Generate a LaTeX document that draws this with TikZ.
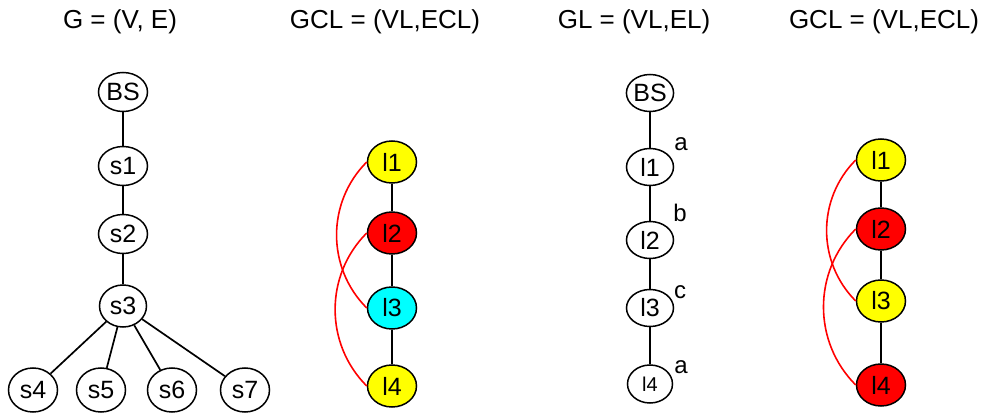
\documentclass[tikz,border=0pt]{standalone}
\usepackage{fontspec}
\setmainfont{Liberation Sans}
\usetikzlibrary{shapes.geometric}
\definecolor{nyellow}{RGB}{255,255,0}
\definecolor{nred}{RGB}{255,0,0}
\definecolor{ncyan}{RGB}{0,255,255}
\tikzset{
  vnode/.style={ellipse, draw=black, line width=1.5pt, fill=white, inner sep=0pt,
    minimum width=49pt, minimum height=39pt, font=\fontsize{25}{28}\selectfont},
  lnode/.style={vnode, minimum height=42pt},
  gnode/.style={vnode, minimum width=47pt, minimum height=37pt},
  title/.style={font=\fontsize{26}{30}\selectfont, inner sep=0pt},
  lab/.style={font=\fontsize{24}{28}\selectfont, inner sep=0pt},
  edge/.style={draw=black, line width=1.7pt},
  conf/.style={draw=nred, line width=1.6pt}
}
\begin{document}
\begin{tikzpicture}[x=1pt,y=-1pt]
\useasboundingbox (0,0) rectangle (989,414);
% titles
\node[title] (t1) at (120,22) {G = (V, E)};
\node[title] (t2) at (385,22) {GCL = (VL,ECL)};
\node[title] (t3) at (634,22) {GL = (VL,EL)};
\node[title] (t4) at (884,22) {GCL = (VL,ECL)};
% graph G
\node[vnode] (bs) at (123,92) {BS};
\node[vnode] (s1) at (123,166) {s1};
\node[vnode] (s2) at (123,234) {s2};
\node[vnode, minimum width=47pt, minimum height=42pt] (s3) at (123,306) {s3};
\node[vnode, minimum height=44pt] (s4) at (33,390) {s4};
\node[vnode, minimum height=44pt] (s5) at (101,390) {s5};
\node[vnode, minimum height=44pt] (s6) at (172,390) {s6};
\node[vnode, minimum height=44pt] (s7) at (245,390) {s7};
\draw[edge] (bs) -- (s1);
\draw[edge] (s1) -- (s2);
\draw[edge] (s2) -- (s3);
\draw[edge] (s3) -- (s4);
\draw[edge] (s3) -- (s5);
\draw[edge] (s3) -- (s6);
\draw[edge] (s3) -- (s7);
% graph GCL 1
\node[lnode, fill=nyellow] (a1) at (392,162) {l1};
\node[lnode, fill=nred] (a2) at (392,233) {l2};
\node[lnode, fill=ncyan] (a3) at (392,308) {l3};
\node[lnode, fill=nyellow] (a4) at (392,386) {l4};
\draw[edge] (a1) -- (a2);
\draw[edge] (a2) -- (a3);
\draw[edge] (a3) -- (a4);
\draw[conf] (a1.west) to[bend right=45] (a3.west);
\draw[conf] (a2.west) to[bend right=45] (a4.west);
% graph GL
\node[gnode] (gbs) at (650,93) {BS};
\node[gnode] (g1) at (650,167) {l1};
\node[gnode] (g2) at (650,240) {l2};
\node[gnode] (g3) at (650,308) {l3};
\node[gnode, minimum width=45pt, minimum height=38pt, font=\fontsize{20}{24}\selectfont] (g4) at (650,384) {l4};
\draw[edge] (gbs) -- (g1);
\draw[edge] (g1) -- (g2);
\draw[edge] (g2) -- (g3);
\draw[edge] (g3) -- (g4);
\node[lab] (la) at (681,144) {a};
\node[lab] (lb) at (680,213) {b};
\node[lab] (lc) at (680,292) {c};
\node[lab] (ld) at (681,367) {a};
% graph GCL 2
\node[lnode, fill=nyellow] (b1) at (881,160) {l1};
\node[lnode, fill=nred] (b2) at (881,229) {l2};
\node[lnode, fill=nyellow] (b3) at (881,301) {l3};
\node[lnode, fill=nred] (b4) at (881,385) {l4};
\draw[edge] (b1) -- (b2);
\draw[edge] (b2) -- (b3);
\draw[edge] (b3) -- (b4);
\draw[conf] (b1.west) to[bend right=45] (b3.west);
\draw[conf] (b2.west) to[bend right=45] (b4.west);
\end{tikzpicture}
\end{document}
